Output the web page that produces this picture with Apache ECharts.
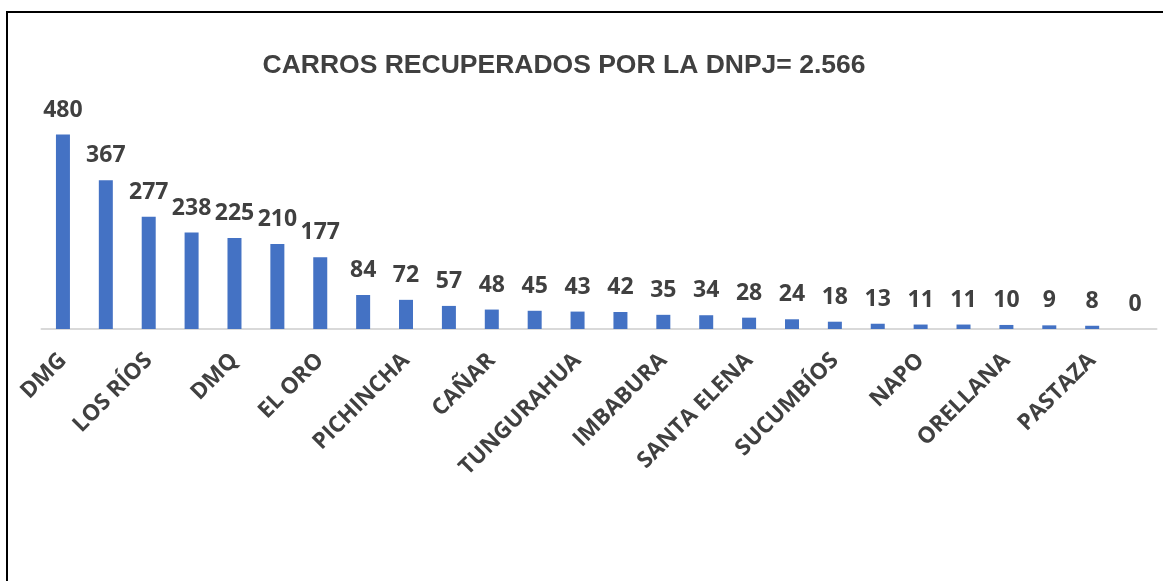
<!DOCTYPE html>
<html>
<head>
<meta charset="utf-8">
<script src="https://cdn.jsdelivr.net/npm/echarts@6/dist/echarts.min.js"></script>
<style>
  html, body { margin: 0; padding: 0; background: #fff; }
  #main { width: 1163px; height: 581px; }
</style>
</head>
<body>
<div id="main"></div>
<script>
// provincias / distritos (solo se ven una de cada dos etiquetas)
var provincias = ['DMG', 'MANABÍ', 'LOS RÍOS', 'GUAYAS', 'DMQ', 'SANTO DOMINGO', 'EL ORO', 'AZUAY',
    'PICHINCHA', 'ESMERALDAS', 'CAÑAR', 'COTOPAXI', 'TUNGURAHUA', 'CHIMBORAZO', 'IMBABURA', 'LOJA',
    'SANTA ELENA', 'BOLÍVAR', 'SUCUMBÍOS', 'CARCHI', 'NAPO', 'MORONA SANTIAGO', 'ORELLANA',
    'ZAMORA CHINCHIPE', 'PASTAZA', 'GALÁPAGOS'];
var carros = [480, 367, 277, 238, 225, 210, 177, 84, 72, 57, 48, 45, 43, 42, 35, 34, 28, 24, 18, 13,
    11, 11, 10, 9, 8, 0];
var titulo = 'CARROS RECUPERADOS POR LA DNPJ= 2.566';

var myChart = echarts.init(document.getElementById('main'));
var option = {
    backgroundColor: '#fff',
    animation: false,
    title: {
        text: titulo,
        left: 559,
        top: 47,
        textAlign: 'center',
        textStyle: {
            fontFamily: 'Liberation Sans',
            fontWeight: 'bold',
            fontSize: 26.5,
            color: '#404040'
        }
    },
    graphic: [{
        type: 'rect',
        shape: {x: 7, y: 12, width: 1300, height: 700},
        style: {fill: 'none', stroke: '#000', lineWidth: 2},
        silent: true
    }],
    grid: {
        left: 41.5,
        right: 6.5,
        top: 86,
        bottom: 252
    },
    xAxis: {
        type: 'category',
        data: provincias,
        axisLine: {show: true, lineStyle: {color: '#d9d9d9', width: 2}},
        axisTick: {show: false},
        axisLabel: {
            interval: 1,
            rotate: 45,
            margin: 28,
            fontFamily: 'Open Sans',
            fontWeight: 'bold',
            fontSize: 22.5,
            color: '#404040'
        }
    },
    yAxis: {
        type: 'value',
        min: 0,
        max: 600,
        show: false,
        splitLine: {show: false}
    },
    series: [{
        type: 'bar',
        data: carros,
        barWidth: 14,
        itemStyle: {color: '#4472C4'},
        label: {
            show: true,
            position: 'top',
            distance: 13,
            fontFamily: 'Open Sans',
            fontWeight: 'bold',
            fontSize: 23,
            color: '#404040'
        }
    }]
};
myChart.setOption(option);
</script>
</body>
</html>
